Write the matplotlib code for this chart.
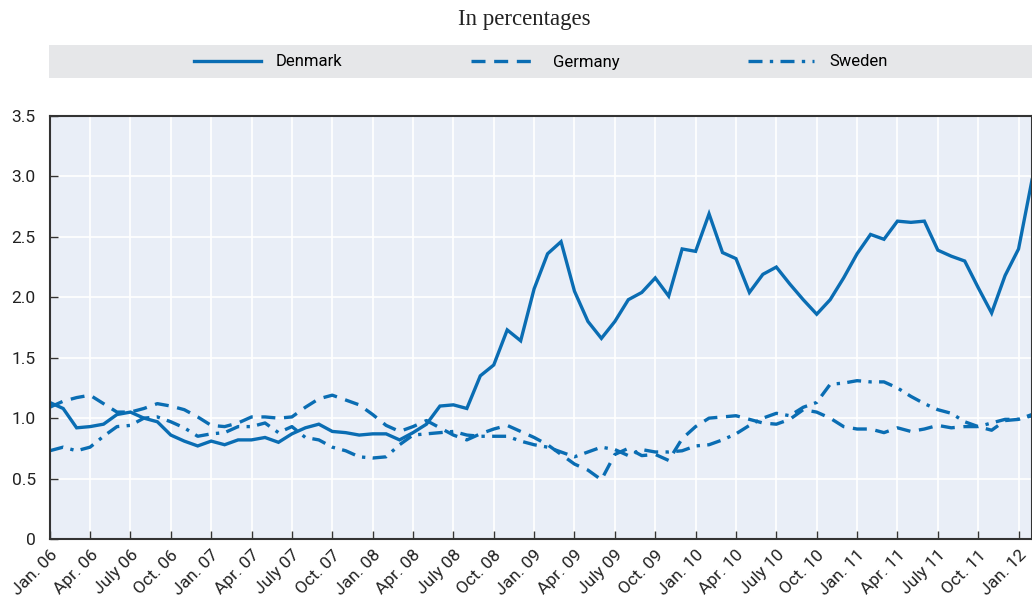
import matplotlib
matplotlib.use("Agg")
import matplotlib.pyplot as plt
from matplotlib.patches import Rectangle
from matplotlib.lines import Line2D

# monthly series, Jan. 06 .. Feb. 12
denmark = [1.13, 1.08, 0.92, 0.93, 0.95, 1.03, 1.05, 1.00, 0.97, 0.86,
           0.81, 0.77, 0.81, 0.78, 0.82, 0.82, 0.84, 0.80, 0.87, 0.92,
           0.95, 0.89, 0.88, 0.86, 0.87, 0.87, 0.82, 0.88, 0.95, 1.10,
           1.11, 1.08, 1.35, 1.44, 1.73, 1.64, 2.07, 2.36, 2.46, 2.05,
           1.80, 1.66, 1.80, 1.98, 2.04, 2.16, 2.01, 2.40, 2.38, 2.69,
           2.37, 2.32, 2.04, 2.19, 2.25, 2.11, 1.98, 1.86, 1.98, 2.16,
           2.36, 2.52, 2.48, 2.63, 2.62, 2.63, 2.39, 2.34, 2.30, 2.08,
           1.87, 2.18, 2.40, 2.97]
germany = [1.09, 1.14, 1.17, 1.19, 1.12, 1.05, 1.05, 1.08, 1.12, 1.10,
           1.07, 1.01, 0.94, 0.93, 0.96, 1.01, 1.01, 1.00, 1.01, 1.09,
           1.16, 1.19, 1.15, 1.11, 1.03, 0.94, 0.89, 0.93, 0.98, 0.92,
           0.86, 0.82, 0.87, 0.91, 0.94, 0.89, 0.84, 0.78, 0.70, 0.62,
           0.57, 0.49, 0.70, 0.75, 0.69, 0.70, 0.65, 0.83, 0.93, 1.00,
           1.01, 1.02, 0.99, 0.96, 0.95, 0.99, 1.07, 1.05, 1.00, 0.93,
           0.91, 0.91, 0.88, 0.92, 0.89, 0.91, 0.94, 0.92, 0.93, 0.93,
           0.90, 0.98, 0.99, 1.02]
sweden = [0.73, 0.76, 0.73, 0.76, 0.85, 0.93, 0.94, 1.00, 1.01, 0.97,
          0.92, 0.85, 0.87, 0.88, 0.93, 0.93, 0.96, 0.88, 0.93, 0.84,
          0.82, 0.76, 0.73, 0.68, 0.67, 0.68, 0.78, 0.86, 0.87, 0.88,
          0.89, 0.86, 0.85, 0.85, 0.85, 0.81, 0.78, 0.76, 0.72, 0.68,
          0.72, 0.76, 0.74, 0.69, 0.74, 0.72, 0.72, 0.73, 0.77, 0.78,
          0.82, 0.87, 0.94, 1.00, 1.04, 1.02, 1.09, 1.13, 1.28, 1.29,
          1.31, 1.30, 1.30, 1.25, 1.18, 1.12, 1.07, 1.04, 0.97, 0.93,
          0.96, 0.99, 0.99, 1.03]
tick_labels = ["Jan. 06", "Apr. 06", "July 06", "Oct. 06",
               "Jan. 07", "Apr. 07", "July 07", "Oct. 07",
               "Jan. 08", "Apr. 08", "July 08", "Oct. 08",
               "Jan. 09", "Apr. 09", "July 09", "Oct. 09",
               "Jan. 10", "Apr. 10", "July 10", "Oct. 10",
               "Jan. 11", "Apr. 11", "July 11", "Oct. 11",
               "Jan. 12"]
y_ticks = [0, 0.5, 1.0, 1.5, 2.0, 2.5, 3.0, 3.5]
y_labels = ["0", "0.5", "1.0", "1.5", "2.0", "2.5", "3.0", "3.5"]

plt.rcParams["font.family"] = ["Roboto", "DejaVu Sans"]
blue = "#0A6DB3"

fig = plt.figure(figsize=(10.32, 6.03), dpi=100)
ax = fig.add_axes([49.7 / 1032, 1 - 539 / 603, (1032 - 49.7) / 1032, 423 / 603])
ax.set_facecolor("#E9EEF7")

x = list(range(len(denmark)))
lw = 2.4
ax.plot(x, denmark, color=blue, lw=lw, solid_joinstyle="miter", label="Denmark")
ax.plot(x, germany, color=blue, lw=lw, dashes=(4.2, 2.6), label="Germany")
ax.plot(x, sweden, color=blue, lw=lw, dashes=(4.2, 2.2, 1.0, 2.2), label="Sweden")

ax.set_xlim(0, 73)
ax.set_ylim(0, 3.5)
ax.set_xticks(range(0, 73, 3))
ax.set_xticklabels(tick_labels, rotation=45, ha="right", rotation_mode="anchor",
                   fontsize=12.5, color="#222222")
ax.set_yticks(y_ticks)
ax.set_yticklabels(y_labels, fontsize=12.5, color="#222222")
ax.tick_params(axis="both", direction="in", length=6, width=1, color="#333333")
ax.tick_params(axis="x", pad=6)
ax.tick_params(axis="y", pad=10)
ax.grid(True, color="white", lw=1.2)
ax.set_axisbelow(True)
for side in ["left", "top", "bottom", "right"]:
    ax.spines[side].set_color("#333333")
    ax.spines[side].set_linewidth(1.5)

# subtitle
fig.text(524 / 1032, 1 - 20 / 603, "In percentages", ha="center", va="center",
         fontsize=16.5, family=["Liberation Serif", "DejaVu Serif"], color="#222222")

# legend band
fig.patches.append(Rectangle((49 / 1032, 1 - 78 / 603), 983 / 1032, 33 / 603,
                             transform=fig.transFigure, facecolor="#E6E7E9",
                             edgecolor="none", zorder=0))
handles = [Line2D([], [], color=blue, lw=lw),
           Line2D([], [], color=blue, lw=lw, dashes=(4.2, 2.6)),
           Line2D([], [], color=blue, lw=lw, dashes=(4.2, 2.2, 1.0, 2.2))]
fig.legend(handles, ["Denmark", "Germany", "Sweden"], loc="center",
           bbox_to_anchor=(541 / 1032, 1 - 62 / 603), ncol=3, frameon=False,
           fontsize=12, handlelength=4.0, handletextpad=0.9, columnspacing=7.7)

fig.savefig("out.png", dpi=100)
